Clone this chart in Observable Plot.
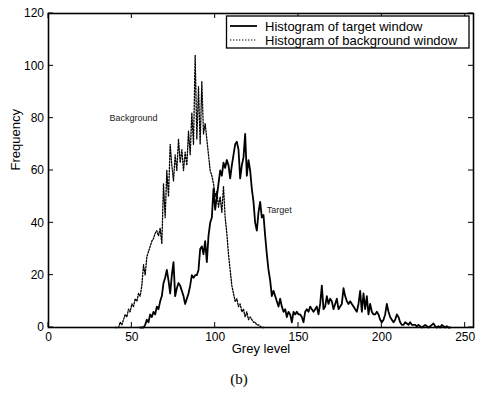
<!DOCTYPE html>
<html><head><meta charset="utf-8">
<script src="https://cdn.jsdelivr.net/npm/d3@7"></script>
<script src="https://cdn.jsdelivr.net/npm/@observablehq/plot@0.6"></script>
<style>body{margin:0;background:#fff}</style>
</head><body><div id="chart"></div>
<script>
// Grey levels start here; one value per grey level
const targetStart = 55;
const targetFreq = [
  0,0,0,1,3,2,5,4,6,5,            // 55-64
  8,7,10,12,17,19,22,18,13,20,    // 65-74
  25,12,15,17,16,14,12,9,11,13,   // 75-84
  16,20,19,20,20,22,30,31,28,33,  // 85-94
  25,35,40,42,53,45,50,55,60,58,  // 95-104
  63,61,64,62,57,62,66,70,71,68,  // 105-114
  57,62,65,74,58,64,60,53,48,40,  // 115-124
  37,44,48,42,43,35,28,22,18,12,  // 125-134
  14,12,10,8,11,8,6,7,4,6,        // 135-144
  5,2,6,5,6,5,5,4,2,6,            // 145-154
  7,6,8,7,6,7,8,5,9,16,           // 155-164
  7,8,12,9,11,10,7,9,11,7,        // 165-174
  8,9,15,12,10,9,10,9,8,7,        // 175-184
  6,9,14,6,13,7,12,5,9,6,         // 185-194
  5,5,6,5,3,2,3,5,9,6,            // 195-204
  4,3,2,3,5,4,2,1,1,2,            // 205-214
  1.5,1,2,1,1,1,0.5,1,0.5,0,      // 215-224
  0.5,1,0.5,0,0.5,1,1.5,0.5,0,0.5,// 225-234
  0,1,0.5,0,0.5,0,0               // 235-241
];
const backgroundStart = 40;
const backgroundFreq = [
  0,0,0,2,1,3,5,4,7,6,            // 40-49
  9,8,11,10,13,12,16,24,20,27,    // 50-59
  29,31,33,34,36,37,35,38,32,55,  // 60-69
  42,60,50,70,62,56,66,60,72,63,  // 70-79
  68,60,67,62,75,66,82,70,104,72, // 80-89
  92,70,94,74,78,72,66,60,58,55,  // 90-99
  50,52,46,50,44,54,42,36,28,22,  // 100-109
  16,13,10,11,8,9,6,7,4,6,        // 110-119
  3,4,3,2,2,1,1,0.5,0,0,0         // 120-130
];
const xTicks = [0, 50, 100, 150, 200, 250];
const yTicks = [0, 20, 40, 60, 80, 100, 120];
const seriesNames = ["Histogram of target window", "Histogram of background window"];
const annotText = ["Background", "Target"];
const annotGrey = [51, 138.5];
const annotFreq = [80, 45];

const target = targetFreq.map((f, i) => ({grey: targetStart + i, freq: f}));
const background = backgroundFreq.map((f, i) => ({grey: backgroundStart + i, freq: f}));
const annots = annotText.map((t, i) => ({text: t, grey: annotGrey[i], freq: annotFreq[i]}));

const font = "'Liberation Sans', Arial, sans-serif";

const plot = Plot.plot({
  width: 477,
  height: 397,
  marginLeft: 48,
  marginRight: 4,
  marginTop: 13,
  marginBottom: 70,
  style: {fontFamily: font, fontSize: "12px", background: "white", color: "black"},
  x: {domain: [0, 255]},
  y: {domain: [0, 120]},
  marks: [
    Plot.line(background, {x: "grey", y: "freq", stroke: "black", strokeWidth: 1.3, strokeDasharray: "1.5,1.5"}),
    Plot.line(target, {x: "grey", y: "freq", stroke: "black", strokeWidth: 1.8}),
    Plot.text(annots, {x: "grey", y: "freq", text: "text", fontSize: 9, fill: "#222"}),
    Plot.axisX(xTicks, {anchor: "bottom", tickSize: 0, tickPadding: 5, label: null, fontSize: 12}),
    Plot.axisY(yTicks, {anchor: "left", tickSize: 0, tickPadding: 4.5, label: null, fontSize: 12}),
    Plot.frame({stroke: "black", strokeWidth: 1.6}),
    Plot.text(["Grey level"], {text: d => d, frameAnchor: "bottom", dy: 25, fontSize: 13}),
    Plot.text(["Frequency"], {text: d => d, frameAnchor: "left", dx: -33, rotate: -90, fontSize: 13}),
    Plot.text(["(b)"], {text: d => d, frameAnchor: "bottom", dy: 56, dx: -22, fontSize: 15, fontFamily: "'Liberation Serif', 'DejaVu Serif', serif"})
  ]
});

const svg = d3.select(plot);
const xs = plot.scale("x"), ys = plot.scale("y");
const [xl, xr] = xs.range, [yb, yt] = ys.range;
const tl = 5;
// Inward ticks on all four sides
const tk = svg.append("g").attr("stroke", "black").attr("stroke-width", 1);
xTicks.forEach(v => {
  const px = xs.apply(v);
  tk.append("line").attr("x1", px).attr("x2", px).attr("y1", yb).attr("y2", yb - tl);
  tk.append("line").attr("x1", px).attr("x2", px).attr("y1", yt).attr("y2", yt + tl);
});
yTicks.forEach(v => {
  const py = ys.apply(v);
  tk.append("line").attr("x1", xl).attr("x2", xl + tl).attr("y1", py).attr("y2", py);
  tk.append("line").attr("x1", xr).attr("x2", xr - tl).attr("y1", py).attr("y2", py);
});

// Legend box
const lg = svg.append("g");
lg.append("rect").attr("x", 226.5).attr("y", 16).attr("width", 242.5).attr("height", 32)
  .attr("fill", "white").attr("stroke", "black").attr("stroke-width", 1.3);
const rows = [26, 40];
seriesNames.forEach((name, i) => {
  lg.append("line").attr("x1", 230).attr("x2", 257).attr("y1", rows[i]).attr("y2", rows[i])
    .attr("stroke", "black").attr("stroke-width", i === 0 ? 1.8 : 1.1)
    .attr("stroke-dasharray", i === 0 ? null : "1.3,1.7");
  lg.append("text").attr("x", 265).attr("y", rows[i]).attr("dy", "0.35em")
    .attr("text-anchor", "start")
    .attr("font-size", 13).attr("font-family", font).attr("fill", "black").text(name);
});

document.getElementById("chart").appendChild(plot);
</script>
</body></html>
